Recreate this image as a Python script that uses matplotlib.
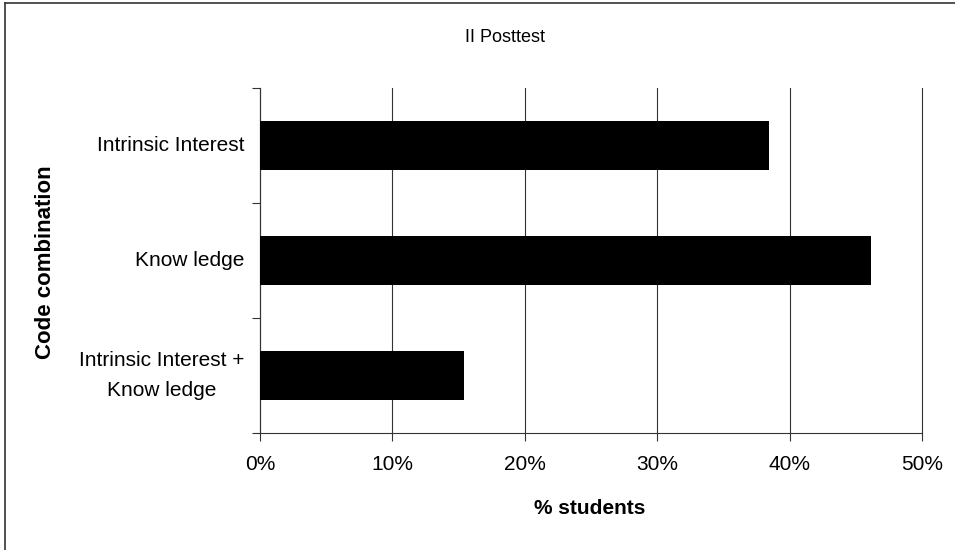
import matplotlib
matplotlib.use("Agg")
import matplotlib.pyplot as plt
from matplotlib.lines import Line2D
import numpy as np

categories = ["Intrinsic Interest", "Know ledge", "Intrinsic Interest +\nKnow ledge"]
values = [38.46, 46.15, 15.38]
xticks = [0, 10, 20, 30, 40, 50]
xtick_labels = ["0%", "10%", "20%", "30%", "40%", "50%"]
title = "II Posttest"

plt.rcParams['font.family'] = ['Liberation Sans', 'DejaVu Sans']

fig = plt.figure(figsize=(9.55, 5.5), dpi=100)
W, H = 955, 550
ax = fig.add_axes([260 / W, 1 - 433 / H, (922 - 260) / W, (433 - 88) / H])

y = np.arange(len(categories))
ax.barh(y, values, height=0.42, color='black', zorder=3)
ax.set_ylim(len(categories) - 0.5, -0.5)
ax.set_xlim(0, 50)

ax.set_xticks(xticks)
ax.set_xticklabels(xtick_labels, fontsize=15)
ax.tick_params(axis='x', direction='out', length=6, width=0.8, color='#333333', pad=10)

ax.set_yticks(np.arange(len(categories) + 1) - 0.5)
ax.set_yticklabels([])
ax.set_yticks(y, minor=True)
ax.set_yticklabels(categories, minor=True, fontsize=15, ha='right', va='center',
                   multialignment='center', linespacing=1.7)
ax.tick_params(axis='y', which='major', direction='out', length=6, width=0.8, color='#333333')
ax.tick_params(axis='y', which='minor', length=0, pad=11)

ax.grid(axis='x', color='#333333', linewidth=0.8, zorder=0)
for gl in ax.get_xgridlines():
    gl.set_clip_on(False)
for s in ['top', 'right']:
    ax.spines[s].set_visible(False)
for s in ['left', 'bottom']:
    ax.spines[s].set_color('#333333')
    ax.spines[s].set_linewidth(0.8)

fig.text(590 / W, 1 - 508 / H, "% students", fontsize=15, fontweight='bold',
         ha='center', va='center')
fig.text(46 / W, 1 - 262 / H, "Code combination", fontsize=16, fontweight='bold',
         ha='center', va='center', rotation=90)

fig.text(505 / W, 1 - 38 / H, title, fontsize=13, ha='center', va='center')

fig.add_artist(Line2D([5 / W, 5 / W], [0, 1 - 3 / H], transform=fig.transFigure, color='#333333', lw=1.2))
fig.add_artist(Line2D([5 / W, 1], [1 - 3 / H, 1 - 3 / H], transform=fig.transFigure, color='#333333', lw=1.2))

fig.savefig("out.png", dpi=100)
